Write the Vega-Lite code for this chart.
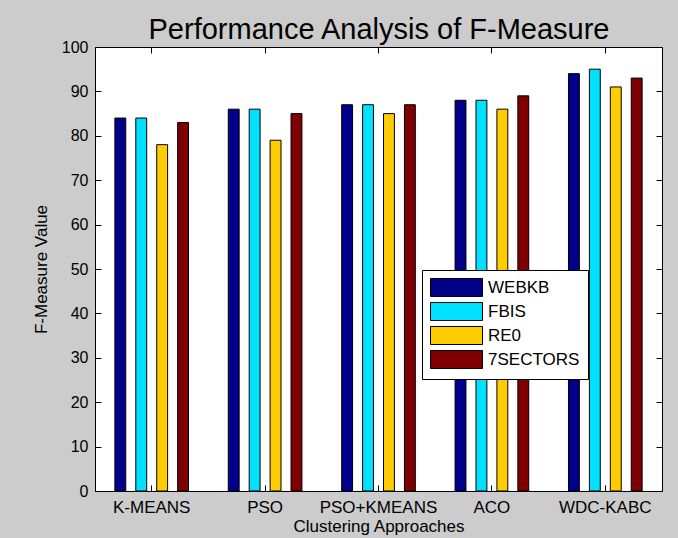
{
  "$schema": "https://vega.github.io/schema/vega-lite/v6.json",
  "width": 567,
  "height": 444,
  "autosize": {"type": "none"},
  "padding": {"left": 95, "top": 47, "right": 16, "bottom": 47},
  "background": "#cccccc",
  "config": {
    "view": {"fill": "white", "stroke": "black", "strokeWidth": 1},
    "font": "Liberation Sans",
    "axis": {
      "labelFont": "Liberation Sans",
      "labelFontSize": 16,
      "labelColor": "black",
      "titleFont": "Liberation Sans",
      "titleFontSize": 17,
      "titleFontWeight": "normal",
      "titleColor": "black",
      "tickColor": "black",
      "domainColor": "black",
      "grid": false,
      "tickSize": -6
    }
  },
  "data": {
    "values": [
      {"approach": "K-MEANS", "dataset": "WEBKB", "value": 84},
      {"approach": "K-MEANS", "dataset": "FBIS", "value": 84},
      {"approach": "K-MEANS", "dataset": "RE0", "value": 78},
      {"approach": "K-MEANS", "dataset": "7SECTORS", "value": 83},
      {"approach": "PSO", "dataset": "WEBKB", "value": 86},
      {"approach": "PSO", "dataset": "FBIS", "value": 86},
      {"approach": "PSO", "dataset": "RE0", "value": 79},
      {"approach": "PSO", "dataset": "7SECTORS", "value": 85},
      {"approach": "PSO+KMEANS", "dataset": "WEBKB", "value": 87},
      {"approach": "PSO+KMEANS", "dataset": "FBIS", "value": 87},
      {"approach": "PSO+KMEANS", "dataset": "RE0", "value": 85},
      {"approach": "PSO+KMEANS", "dataset": "7SECTORS", "value": 87},
      {"approach": "ACO", "dataset": "WEBKB", "value": 88},
      {"approach": "ACO", "dataset": "FBIS", "value": 88},
      {"approach": "ACO", "dataset": "RE0", "value": 86},
      {"approach": "ACO", "dataset": "7SECTORS", "value": 89},
      {"approach": "WDC-KABC", "dataset": "WEBKB", "value": 94},
      {"approach": "WDC-KABC", "dataset": "FBIS", "value": 95},
      {"approach": "WDC-KABC", "dataset": "RE0", "value": 91},
      {"approach": "WDC-KABC", "dataset": "7SECTORS", "value": 93}
    ]
  },
  "layer": [
    {
      "mark": {"type": "bar", "stroke": "black", "strokeWidth": 1},
      "encoding": {
        "x": {
          "field": "approach",
          "type": "nominal",
          "sort": ["K-MEANS", "PSO", "PSO+KMEANS", "ACO", "WDC-KABC"],
          "scale": {"paddingInner": 0, "paddingOuter": 0},
          "axis": {"labelAngle": 0, "labelFontSize": 17, "title": "Clustering Approaches", "labelPadding": 14, "titlePadding": 3}
        },
        "xOffset": {
          "field": "dataset",
          "type": "nominal",
          "sort": ["WEBKB", "FBIS", "RE0", "7SECTORS"],
          "scale": {"paddingInner": 0.48, "paddingOuter": 0.95}
        },
        "y": {
          "field": "value",
          "type": "quantitative",
          "scale": {"domain": [0, 100], "nice": false},
          "axis": {"values": [0, 10, 20, 30, 40, 50, 60, 70, 80, 90, 100], "title": "F-Measure Value", "labelPadding": 13, "titlePadding": 11}
        },
        "color": {
          "field": "dataset",
          "type": "nominal",
          "sort": ["WEBKB", "FBIS", "RE0", "7SECTORS"],
          "scale": {"domain": ["WEBKB", "FBIS", "RE0", "7SECTORS"], "range": ["#00008B", "#00E0FF", "#FFCC00", "#7F0000"]},
          "legend": {
            "title": null,
            "orient": "none",
            "legendX": 327,
            "legendY": 223,
            "fillColor": "white",
            "strokeColor": "black",
            "padding": 8,
            "symbolType": "M-1,-1H4.78V1H-1Z",
            "symbolSize": 324,
            "symbolStrokeColor": "black",
            "symbolStrokeWidth": 1,
            "symbolOpacity": 1,
            "labelOffset": 39,
            "labelFont": "Liberation Sans",
            "labelFontSize": 17,
            "labelColor": "black",
            "rowPadding": 1,
            "labelLimit": 200
          }
        }
      }
    },
    {
      "mark": {"type": "bar", "opacity": 0},
      "encoding": {
        "x": {
          "field": "approach",
          "type": "nominal",
          "sort": ["K-MEANS", "PSO", "PSO+KMEANS", "ACO", "WDC-KABC"],
          "axis": {
            "orient": "top",
            "labels": false,
            "domain": false,
            "title": "Performance Analysis of F-Measure",
            "titleFontSize": 29,
            "titleFontWeight": "normal",
            "titleColor": "black",
            "titlePadding": 2
          }
        },
        "y": {
          "field": "value",
          "type": "quantitative",
          "axis": {"orient": "right", "labels": false, "title": null, "domain": false, "values": [0, 10, 20, 30, 40, 50, 60, 70, 80, 90, 100]}
        }
      }
    }
  ],
  "resolve": {"axis": {"x": "independent", "y": "independent"}}
}
